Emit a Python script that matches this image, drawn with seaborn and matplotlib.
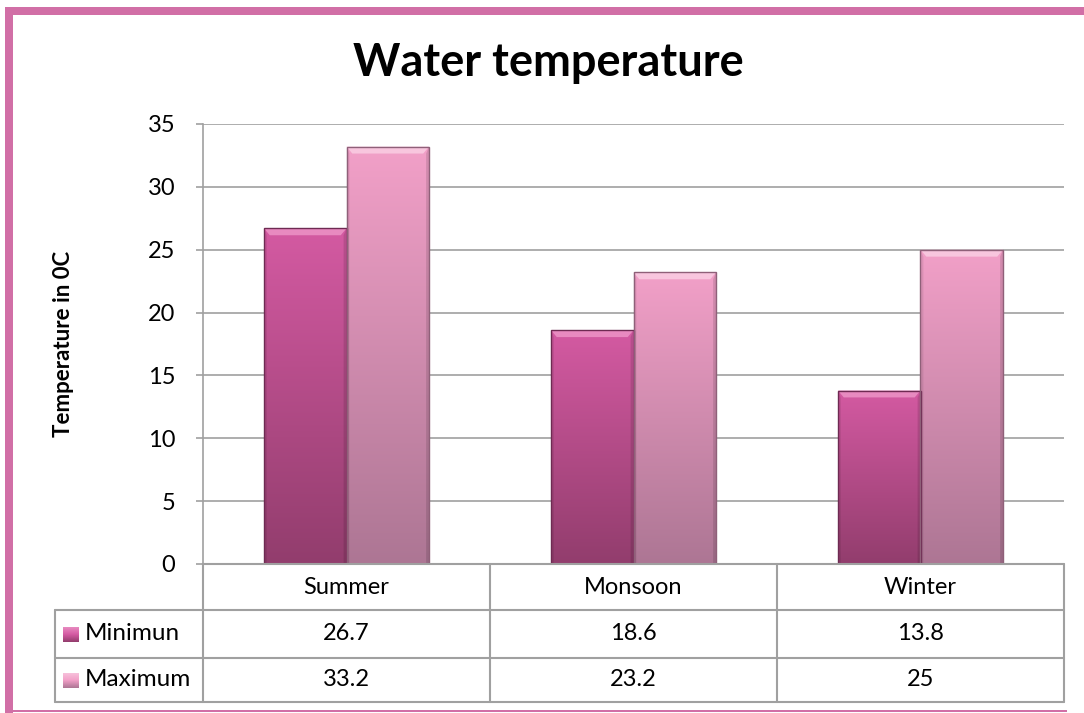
import matplotlib
matplotlib.use("Agg")
import matplotlib.pyplot as plt
import seaborn as sns
import numpy as np
import pandas as pd
from matplotlib.colors import LinearSegmentedColormap
from matplotlib.lines import Line2D
from matplotlib.patches import Rectangle, Polygon

categories = ["Summer", "Monsoon", "Winter"]
series_names = ["Minimun", "Maximum"]
minimum_vals = [26.7, 18.6, 13.8]
maximum_vals = [33.2, 23.2, 25]
table_labels = [["26.7", "18.6", "13.8"], ["33.2", "23.2", "25"]]
yticks = [0, 5, 10, 15, 20, 25, 30, 35]

sns.set_theme(style="white")
plt.rcParams['font.family'] = ['Lato', 'DejaVu Sans']
plt.rcParams['text.color'] = 'black'
plt.rcParams['axes.labelcolor'] = 'black'

df = pd.DataFrame({
    "season": categories * 2,
    "series": [series_names[0]] * 3 + [series_names[1]] * 3,
    "value": minimum_vals + maximum_vals,
})

W, H = 1084, 713
fig = plt.figure(figsize=(W / 100, H / 100), dpi=100)
fig.patch.set_facecolor("white")

L, R, T, B = 203, 1064, 124, 564
ax = fig.add_axes([L / W, 1 - B / H, (R - L) / W, (B - T) / H])

grad_cols = {
    series_names[0]: ("#d45aa2", "#923d6d"),
    series_names[1]: ("#f2a0c8", "#ad7694"),
}
edge_cols = {series_names[0]: "#6e2a52", series_names[1]: "#8f6079"}
bevel_cols = {series_names[0]: "#e88ac0", series_names[1]: "#f8c6de"}

sns.barplot(data=df, x="season", y="value", hue="series", order=categories,
            hue_order=series_names, palette=[grad_cols[s][0] for s in series_names],
            width=0.575, gap=0.0, ax=ax, legend=False, saturation=1)

ax.set_ylim(0, 35)
ax.set_xlim(-0.5, 2.5)
ax.set_yticks(yticks)
ax.yaxis.grid(True, color="#a0a0a0", linewidth=1.2)
ax.set_axisbelow(True)
for s in ["top", "right", "bottom"]:
    ax.spines[s].set_visible(False)
ax.spines["left"].set_color("#a0a0a0")
ax.spines["left"].set_linewidth(1.2)
ax.tick_params(axis="y", left=True, length=5, width=1.2, color="#a0a0a0",
               labelsize=17, pad=15, labelcolor="black")
ax.tick_params(axis="x", bottom=False, labelbottom=False)
ax.set_xlabel("")
ax.set_ylabel("Temperature in 0C", fontsize=16, fontweight="bold", labelpad=53)

# gradient fill for bars
bars = list(ax.patches)
order_series = [series_names[i // len(categories)] for i in range(len(bars))]
bev_h = 0.55  # data units of bevel at top
for p, s in zip(bars, order_series):
    x0, y0 = p.get_x(), p.get_y()
    w, h = p.get_width(), p.get_height()
    cmap = LinearSegmentedColormap.from_list("g", [grad_cols[s][1], grad_cols[s][0]])
    grad = np.linspace(0, 1, 256).reshape(-1, 1)
    im = ax.imshow(grad, aspect="auto", cmap=cmap, origin="lower",
                   extent=[x0, x0 + w, y0, y0 + h], zorder=2)
    im.set_clip_path(p)
    p.set_edgecolor(edge_cols[s])
    p.set_linewidth(1.0)
    p.set_zorder(4)
    p.set_facecolor("none")
    dx = w * 0.07
    top = y0 + h
    ax.add_patch(Polygon([[x0, top], [x0 + w, top], [x0 + w - dx, top - bev_h],
                          [x0 + dx, top - bev_h]], closed=True,
                         facecolor=bevel_cols[s], edgecolor="none", zorder=3))
    ax.add_patch(Polygon([[x0, top], [x0 + dx * 0.5, top - bev_h], [x0 + dx * 0.5, y0], [x0, y0]],
                         closed=True, facecolor="black", alpha=0.08, edgecolor="none", zorder=3))
    ax.add_patch(Polygon([[x0 + w, top], [x0 + w - dx * 0.5, top - bev_h],
                          [x0 + w - dx * 0.5, y0], [x0 + w, y0]],
                         closed=True, facecolor="black", alpha=0.12, edgecolor="none", zorder=3))

# title
fig.text(548 / W, 1 - 63 / H, "Water temperature", ha="center", va="center",
         fontsize=32.5, fontweight="bold", color="black")

# data table below
gc = "#a0a0a0"
def hline(x0, x1, y):
    fig.add_artist(Line2D([x0 / W, x1 / W], [1 - y / H, 1 - y / H], color=gc, lw=1.5))
def vline(x, y0, y1):
    fig.add_artist(Line2D([x / W, x / W], [1 - y0 / H, 1 - y1 / H], color=gc, lw=1.5))

rows_y = [564, 610, 658, 702]
col_x = [203, 490, 777, 1064]
hline(203, 1064, 564)
for y in rows_y[1:]:
    hline(55, 1064, y)
for x in col_x:
    vline(x, 564, 702)
vline(55, 610, 702)

for j, c in enumerate(categories):
    fig.text((col_x[j] + col_x[j + 1]) / 2 / W, 1 - 588 / H, c, ha="center",
             va="center", fontsize=17)
for i, row in enumerate(table_labels):
    yc = (rows_y[i + 1] + rows_y[i + 2]) / 2
    for j, v in enumerate(row):
        fig.text((col_x[j] + col_x[j + 1]) / 2 / W, 1 - yc / H, v, ha="center",
                 va="center", fontsize=17)
    s = series_names[i]
    mk = fig.add_axes([63 / W, 1 - (yc + 8) / H, 16 / W, 15 / H])
    mk.imshow(np.linspace(0, 1, 64).reshape(-1, 1), aspect="auto",
              cmap=LinearSegmentedColormap.from_list("m", [bevel_cols[s], grad_cols[s][0], grad_cols[s][1]]))
    mk.set_axis_off()
    fig.text(85 / W, 1 - yc / H, s, ha="left", va="center", fontsize=17.5)

# pink frame
pink = "#d16fa6"
fig.add_artist(Rectangle((5 / W, 1 - 15 / H), 1 - 5 / W, 8 / H, transform=fig.transFigure,
                         facecolor=pink, edgecolor="none"))
fig.add_artist(Rectangle((5 / W, 0), 8 / W, 1 - 7 / H, transform=fig.transFigure,
                         facecolor=pink, edgecolor="none"))
fig.add_artist(Rectangle((5 / W, 1 / H), 1062 / W, 2 / H, transform=fig.transFigure,
                         facecolor=pink, edgecolor="none"))

fig.savefig("out.png", dpi=100, facecolor="white")
